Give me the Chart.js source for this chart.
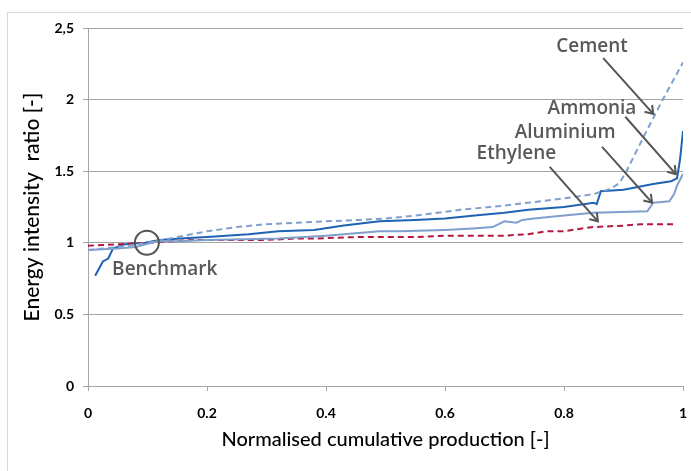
<!DOCTYPE html>
<html>
<head>
<meta charset="utf-8">
<script src="https://cdn.jsdelivr.net/npm/chart.js@4.4.1/dist/chart.umd.min.js"></script>
<style>
  html, body { margin: 0; padding: 0; background: #fff; }
  #wrap { width: 691px; height: 471px; }
</style>
</head>
<body>
<div id="wrap"><canvas id="chart"></canvas></div>
<script>
// values
const ammoniaX = [0.012, 0.025, 0.034, 0.042, 0.062, 0.096, 0.12, 0.155, 0.2, 0.27, 0.32, 0.38, 0.43, 0.49, 0.55, 0.6, 0.625, 0.65, 0.7, 0.74, 0.8, 0.85, 0.855, 0.862, 0.9, 0.95, 0.98, 0.99, 0.995, 1.0];
const ammoniaY = [0.77, 0.87, 0.89, 0.96, 0.99, 1.0, 1.02, 1.03, 1.04, 1.06, 1.08, 1.09, 1.12, 1.15, 1.16, 1.17, 1.18, 1.19, 1.21, 1.23, 1.25, 1.28, 1.27, 1.36, 1.37, 1.41, 1.43, 1.45, 1.58, 1.78];

const cementX = [0, 0.05, 0.1, 0.15, 0.2, 0.25, 0.3, 0.35, 0.4, 0.457, 0.5, 0.55, 0.625, 0.7, 0.74, 0.8, 0.85, 0.88, 0.894, 0.905, 0.935, 0.966, 1.0];
const cementY = [0.95, 0.97, 1.0, 1.04, 1.08, 1.11, 1.13, 1.14, 1.15, 1.16, 1.17, 1.19, 1.23, 1.26, 1.28, 1.31, 1.34, 1.38, 1.42, 1.5, 1.75, 2.0, 2.26];

const aluminiumX = [0, 0.05, 0.08, 0.116, 0.15, 0.2, 0.32, 0.4, 0.49, 0.524, 0.6, 0.647, 0.68, 0.7, 0.72, 0.73, 0.75, 0.8, 0.85, 0.94, 0.95, 0.977, 0.985, 0.99, 1.0];
const aluminiumY = [0.95, 0.96, 0.97, 1.01, 1.01, 1.02, 1.03, 1.05, 1.08, 1.08, 1.09, 1.10, 1.11, 1.15, 1.14, 1.16, 1.17, 1.19, 1.21, 1.22, 1.28, 1.29, 1.34, 1.4, 1.48];

const ethyleneX = [0, 0.05, 0.1, 0.18, 0.25, 0.3, 0.35, 0.38, 0.45, 0.5, 0.55, 0.6, 0.65, 0.7, 0.74, 0.77, 0.8, 0.83, 0.85, 0.9, 0.93, 0.96, 0.99];
const ethyleneY = [0.98, 0.99, 1.0, 1.02, 1.02, 1.02, 1.03, 1.03, 1.04, 1.04, 1.04, 1.05, 1.05, 1.05, 1.06, 1.08, 1.08, 1.1, 1.11, 1.12, 1.13, 1.13, 1.13];

const xTicks = [0, 0.2, 0.4, 0.6, 0.8, 1];
const xTickLabels = ['0', '0.2', '0.4', '0.6', '0.8', '1'];
const yTicks = [0, 0.5, 1, 1.5, 2, 2.5];
const yTickLabels = ['0', '0.5', '1', '1.5', '2', '2,5'];

// callouts: label position and arrow tail/head in data units
const callouts = [
  { text: 'Cement',    at: [0.847, 2.37], from: [0.866, 2.29], to: [0.950, 1.90] },
  { text: 'Ammonia',   at: [0.847, 1.94], from: [0.903, 1.88], to: [0.988, 1.48] },
  { text: 'Aluminium', at: [0.802, 1.77], from: [0.864, 1.67], to: [0.948, 1.28] },
  { text: 'Ethylene',  at: [0.72, 1.62],  from: [0.776, 1.53], to: [0.857, 1.15] }
];
const benchmark = { text: 'Benchmark', at: [0.129, 0.81], circle: [0.099, 1.0] };

function pairs(xs, ys) {
  return xs.map((x, i) => ({ x: x, y: ys[i] }));
}

const annotationPlugin = {
  id: 'callouts',
  beforeDraw(chart) {
    const ctx = chart.ctx;
    ctx.save();
    ctx.strokeStyle = '#d9d9d9';
    ctx.lineWidth = 1;
    ctx.strokeRect(7.5, 12.5, 700, 480);
    ctx.restore();
  },
  afterDatasetsDraw(chart) {
    const ctx = chart.ctx;
    const sx = chart.scales.x, sy = chart.scales.y;
    const px = v => sx.getPixelForValue(v);
    const py = v => sy.getPixelForValue(v);
    ctx.save();
    ctx.font = '600 19px "Open Sans"';
    ctx.fillStyle = '#595959';
    ctx.textAlign = 'center';
    ctx.textBaseline = 'middle';
    ctx.strokeStyle = '#555555';
    ctx.lineWidth = 2;
    callouts.forEach(c => {
      ctx.fillText(c.text, px(c.at[0]), py(c.at[1]));
      const x1 = px(c.from[0]), y1 = py(c.from[1]);
      const x2 = px(c.to[0]), y2 = py(c.to[1]);
      ctx.beginPath();
      ctx.moveTo(x1, y1);
      ctx.lineTo(x2, y2);
      ctx.stroke();
      const a = Math.atan2(y2 - y1, x2 - x1);
      const len = 9;
      ctx.beginPath();
      ctx.moveTo(x2 - len * Math.cos(a - 0.6), y2 - len * Math.sin(a - 0.6));
      ctx.lineTo(x2, y2);
      ctx.lineTo(x2 - len * Math.cos(a + 0.6), y2 - len * Math.sin(a + 0.6));
      ctx.stroke();
    });
    ctx.fillText(benchmark.text, px(benchmark.at[0]), py(benchmark.at[1]));
    ctx.beginPath();
    ctx.arc(px(benchmark.circle[0]), py(benchmark.circle[1]), 12, 0, Math.PI * 2);
    ctx.stroke();
    ctx.restore();
  }
};

new Chart(document.getElementById('chart'), {
  type: 'line',
  data: {
    datasets: [
      { label: 'Cement', data: pairs(cementX, cementY), borderColor: '#7f9fcd', borderWidth: 2, borderDash: [6, 4] },
      { label: 'Aluminium', data: pairs(aluminiumX, aluminiumY), borderColor: '#7f9fcd', borderWidth: 2 },
      { label: 'Ethylene', data: pairs(ethyleneX, ethyleneY), borderColor: '#b5173f', borderWidth: 2, borderDash: [6, 4] },
      { label: 'Ammonia', data: pairs(ammoniaX, ammoniaY), borderColor: '#1f63b3', borderWidth: 2 }
    ]
  },
  options: {
    responsive: true,
    maintainAspectRatio: false,
    animation: false,
    layout: { padding: { left: 0, top: 28, right: 0, bottom: 0 } },
    elements: { point: { radius: 0 }, line: { tension: 0 } },
    plugins: { legend: { display: false }, tooltip: { enabled: false } },
    scales: {
      x: {
        type: 'linear',
        min: 0, max: 1,
        afterBuildTicks: s => { s.ticks = xTicks.map(v => ({ value: v })); },
        afterFit: s => { s.height = 85; s.paddingRight = 8; },
        ticks: {
          callback: (v, i) => xTickLabels[i],
          color: '#000',
          font: { family: 'Lato', weight: 'bold', size: 14 },
          padding: 14,
          maxRotation: 0
        },
        grid: { drawOnChartArea: false, drawTicks: true, tickLength: 5, color: '#a6a6a6' },
        border: { color: '#a6a6a6' },
        title: {
          display: true,
          text: 'Normalised cumulative production [-]',
          color: '#000',
          font: { family: 'Lato', size: 20, weight: '500' },
          padding: { top: 0, bottom: 19 }
        }
      },
      y: {
        min: 0, max: 2.5,
        afterBuildTicks: s => { s.ticks = yTicks.map(v => ({ value: v })); },
        afterFit: s => { s.width = 88; },
        ticks: {
          callback: (v, i) => yTickLabels[i],
          color: '#000',
          font: { family: 'Lato', weight: 'bold', size: 14 },
          padding: 9
        },
        grid: { color: '#a6a6a6', tickLength: 5 },
        border: { color: '#a6a6a6' },
        title: {
          display: true,
          text: 'Energy intensity  ratio [-]',
          color: '#000',
          font: { family: 'Lato', size: 21, weight: '500' },
          padding: { top: 20, bottom: 0 }
        }
      }
    }
  },
  plugins: [annotationPlugin]
});
</script>
</body>
</html>
